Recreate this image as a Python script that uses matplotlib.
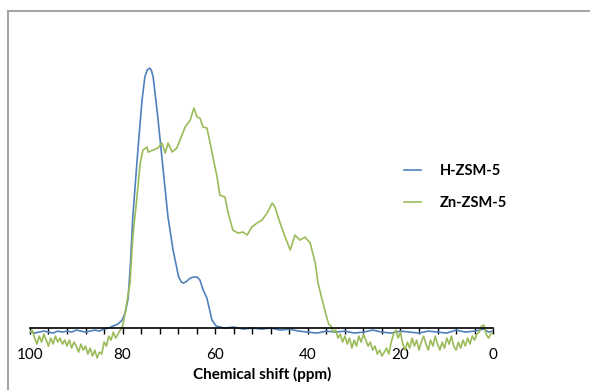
import matplotlib.pyplot as plt
from matplotlib.ticker import MultipleLocator
from matplotlib.lines import Line2D

plt.rcParams['font.family'] = ['Lato', 'DejaVu Sans']

# H-ZSM-5 (blue)
h_ppm = [100, 99, 98, 97, 96, 95, 94, 93, 92, 91, 90, 89, 88, 87, 86, 85, 84, 83,
         82.1, 81, 80.1, 79.4, 78.8, 78.3, 77.8, 76.7, 75.8, 75.2, 74.7, 74.2, 73.8, 73.4,
         72.4, 71.3, 70.2, 69.1, 67.9, 67.3, 66.8, 66.1, 65.4, 64.6, 63.9, 63.3, 62.6,
         61.8, 61.2, 60.7, 59.8,
         58, 56, 54, 52, 50, 48, 46, 44, 42, 40, 38, 36, 34, 32, 30, 28, 26, 24, 22,
         20, 18, 16, 14, 12, 10, 8, 6, 4, 2, 1, 0]
h_int = [-3, -5, -4, -3, -4, -5, -3, -4, -3, -4, -2, -3, -4, -3, -2, -3, -1, 0,
         2, 4, 8, 16, 30, 65, 111, 178, 228, 251, 258, 260, 258, 251,
         211, 161, 111, 78, 51, 46, 45, 47, 50, 51, 51, 48, 38,
         30, 18, 8, 2,
         0, 1, -1, 0, -1, 0, -2, -1, -3, -4, -5, -3, -4, -3, -5, -4, -2, -4, -5,
         -3, -4, -5, -3, -4, -5, -2, -4, -3, -1, -4, -3]

# Zn-ZSM-5 (green)
zn_ppm = [100, 99.5, 99, 98.5, 98, 97.5, 97, 96.5, 96, 95.5, 95, 94.5, 94, 93.5, 93,
          92.5, 92, 91.5, 91, 90.5, 90, 89.5, 89, 88.5, 88, 87.5, 87, 86.5, 86, 85.5,
          85, 84.5, 84, 83.5, 83, 82.5, 82, 81.5, 81, 80.5, 80, 79.5, 79,
          78.4, 77.8, 76.9, 76.2, 75.6, 74.7, 74.5, 73.4, 72.4, 71.5, 70.8, 70.2, 69.3,
          68.3, 67.6, 66.5, 65.4, 64.6, 63.9, 63.3, 62.6, 61.8, 61.1, 60.5, 59.6, 59.0,
          57.9, 57.2, 56.2, 55.1, 54.0, 53.1, 52.1, 51.0, 49.9, 48.8, 47.7, 47.1, 46.0,
          44.9, 43.8, 42.8, 41.7, 40.6, 39.5, 38.4, 37.8, 36.9, 36, 35.5,
          35, 34.5, 34, 33.5, 33, 32.5, 32, 31.5, 31, 30.5, 30, 29.5, 29, 28.5, 28,
          27.5, 27, 26.5, 26, 25.5, 25, 24.5, 24, 23.5, 23, 22.5, 22, 21.5, 21, 20.5,
          20, 19.5, 19, 18.5, 18, 17.5, 17, 16.5, 16, 15.5, 15, 14.5, 14, 13.5, 13,
          12.5, 12, 11.5, 11, 10.5, 10, 9.5, 9, 8.5, 8, 7.5, 7, 6.5, 6, 5.5, 5, 4.5,
          4, 3.5, 3, 2.5, 2, 1.5, 1, 0.5, 0]
zn_int = [-4, -2, -10, -16, -8, -14, -6, -12, -18, -10, -16, -8, -14, -10, -16,
          -12, -18, -12, -20, -14, -18, -24, -16, -22, -18, -26, -20, -28, -22, -30,
          -24, -26, -14, -18, -8, -12, -4, -10, -6, -2, 2, 14, 28,
          45, 91, 131, 165, 178, 181, 176, 178, 180, 185, 175, 185, 176,
          180, 188, 201, 208, 220, 211, 210, 201, 200, 185, 171, 151, 133,
          131, 115, 98, 95, 96, 93, 101, 105, 108, 115, 125, 121, 105,
          91, 78, 93, 88, 91, 85, 65, 45, 28, 12, 4,
          2, -4, -2, -10, -6, -14, -8, -16, -10, -20, -12, -18, -8, -14, -6,
          -12, -18, -14, -22, -18, -26, -22, -28, -24, -20, -26, -14, -6, -2, -10,
          -4, -16, -22, -14, -20, -10, -18, -12, -22, -14, -8, -16, -22, -12, -18,
          -8, -16, -22, -14, -20, -10, -16, -8, -18, -22, -14, -20, -12, -18, -10, -16, -8,
          -12, -6, -4, 2, 3, -6, -10, -6, -4]

fig = plt.figure(figsize=(5.9, 3.9), dpi=100)
ax = fig.add_axes([0.0508, 0.069, 0.785, 0.795])

ax.plot(h_ppm, h_int, color='#4F81BD', lw=1.2, label='H-ZSM-5', solid_joinstyle='round')
ax.plot(zn_ppm, zn_int, color='#9BBB59', lw=1.2, label='Zn-ZSM-5', solid_joinstyle='round')

ax.set_xlim(100, 0)
ax.set_ylim(-35, 275)
for s in ['left', 'right', 'top']:
    ax.spines[s].set_visible(False)
ax.spines['bottom'].set_position(('data', 0))
ax.spines['bottom'].set_linewidth(1.2)
ax.set_yticks([])
ax.xaxis.set_major_locator(MultipleLocator(20))
ax.xaxis.set_minor_locator(MultipleLocator(4))
ax.tick_params(axis='x', which='both', direction='out', length=4, width=1, pad=10, labelsize=11)

fig.text(0.444, 0.028, 'Chemical shift (ppm)', ha='center', fontsize=11, fontweight='bold')

fig.legend(loc='center left', bbox_to_anchor=(0.662, 0.52), frameon=False,
           handlelength=1.2, handletextpad=1.3, labelspacing=1.2,
           prop={'size': 10.5, 'weight': 'bold'})

# outer chart frame (top and left edges only)
fig.add_artist(Line2D([8/590, 1], [1 - 11/390, 1 - 11/390], color='#A6A6A6', lw=1.5))
fig.add_artist(Line2D([8/590, 8/590], [0, 1 - 11/390], color='#A6A6A6', lw=1.5))

fig.savefig('out.png', dpi=100)
